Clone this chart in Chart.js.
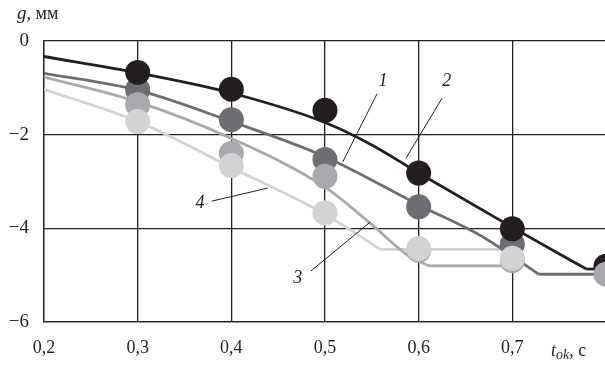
<!DOCTYPE html>
<html>
<head>
<meta charset="utf-8">
<script src="https://cdn.jsdelivr.net/npm/chart.js@4/dist/chart.umd.min.js"></script>
<style>
  html, body { margin: 0; padding: 0; background: #fff; overflow: hidden; }
  #wrap { width: 605px; height: 366px; overflow: hidden; position: relative; }
  canvas { position: absolute; left: 0; top: 0; }
</style>
</head>
<body>
<div id="wrap"><canvas id="c" width="608" height="366"></canvas></div>
<script>
// Axis ticks
const xTicks = [0.2, 0.3, 0.4, 0.5, 0.6, 0.7, 0.8];
const yTicks = [-6, -4, -2, 0];

// Measured deflection g (mm) at the tested t_ok values (s)
const dotX = [0.3, 0.4, 0.5, 0.6, 0.7, 0.8];
const dots1 = [-1.04, -1.68, -2.53, -3.54, -4.34, null];
const dots2 = [-0.67, -1.03, -1.48, -2.82, -4.01, -4.81];
const dots3 = [-1.36, -2.40, -2.89, -4.47, -4.69, -4.98];
const dots4 = [-1.72, -2.66, -3.67, -4.43, -4.64, null];

// Calculated curves: sloping part and the horizontal shelf after it
const curve1X = [0.2, 0.3, 0.4, 0.5, 0.6, 0.67, 0.728];
const curve1Y = [-0.69, -1.05, -1.72, -2.47, -3.5, -4.2, -4.98];
const shelf1X = [0.728, 0.8];
const shelf1Y = [-4.98, -4.98];

const curve2X = [0.2, 0.3, 0.4, 0.5, 0.55, 0.6, 0.7, 0.779];
const curve2Y = [-0.33, -0.68, -1.11, -1.74, -2.22, -2.82, -3.98, -4.87];
const shelf2X = [0.779, 0.8];
const shelf2Y = [-4.87, -4.87];

const curve3X = [0.2, 0.3, 0.4, 0.5, 0.55, 0.59, 0.611];
const curve3Y = [-0.77, -1.3, -2.08, -3.12, -3.92, -4.6, -4.8];
const shelf3X = [0.611, 0.7];
const shelf3Y = [-4.8, -4.8];

const curve4X = [0.2, 0.3, 0.4, 0.5, 0.559];
const curve4Y = [-1.03, -1.72, -2.7, -3.7, -4.45];
const shelf4X = [0.559, 0.7];
const shelf4Y = [-4.45, -4.45];

// Curve numbers with their leader lines (data units)
const curveLabels = [
  { text: '1', at: [0.562, -0.85], from: [0.5555, -1.13], to: [0.519, -2.58] },
  { text: '2', at: [0.630, -0.85], from: [0.625, -1.22], to: [0.5865, -2.50] },
  { text: '3', at: [0.471, -5.06], from: [0.485, -4.91], to: [0.548, -3.87] },
  { text: '4', at: [0.3665, -3.46], from: [0.379, -3.42], to: [0.439, -3.14] }
];

const INK = '#231f20';
const C1 = '#6d6e71';
const C2 = '#231f20';
const C3 = '#a7a9ac';
const C4 = '#d1d3d4';
const SERIF = '"Liberation Serif", "Times New Roman", serif';

const pts = (xs, ys) => xs.map((x, i) => ({ x: x, y: ys[i] })).filter(p => p.y !== null);

function lineSet(xs, ys, color, smooth) {
  return {
    data: pts(xs, ys),
    borderColor: color,
    borderWidth: 2.8,
    pointRadius: 0,
    fill: false,
    cubicInterpolationMode: smooth ? 'monotone' : 'default',
    tension: 0,
    order: 10
  };
}
function dotSet(ys, color, order) {
  return {
    data: pts(dotX, ys),
    showLine: false,
    pointRadius: 12.5,
    pointHoverRadius: 12.5,
    pointBackgroundColor: color,
    pointBorderWidth: 0,
    borderColor: color,
    order: order,
    clip: false
  };
}

const annotate = {
  id: 'annotate',
  afterDatasetsDraw(chart) {
    const ctx = chart.ctx;
    const xs = chart.scales.x, ys = chart.scales.y;
    ctx.save();
    ctx.strokeStyle = INK;
    ctx.fillStyle = INK;
    ctx.lineWidth = 1;
    curveLabels.forEach(l => {
      ctx.beginPath();
      ctx.moveTo(xs.getPixelForValue(l.from[0]), ys.getPixelForValue(l.from[1]));
      ctx.lineTo(xs.getPixelForValue(l.to[0]), ys.getPixelForValue(l.to[1]));
      ctx.stroke();
      ctx.font = 'italic 18px ' + SERIF;
      ctx.textAlign = 'center';
      ctx.textBaseline = 'middle';
      ctx.fillText(l.text, xs.getPixelForValue(l.at[0]), ys.getPixelForValue(l.at[1]));
    });

    // axis titles
    ctx.textAlign = 'left';
    ctx.textBaseline = 'alphabetic';
    let x = 17, y = 19;
    ctx.font = 'italic 19px ' + SERIF;
    ctx.fillText('g', x, y);
    x += ctx.measureText('g').width;
    ctx.font = '18px ' + SERIF;
    ctx.fillText(', мм', x, y);

    x = 551; y = 356;
    ctx.font = 'italic 18px ' + SERIF;
    ctx.fillText('t', x, y);
    x += ctx.measureText('t').width;
    ctx.font = 'italic 14px ' + SERIF;
    ctx.fillText('ok', x, y + 3);
    x += ctx.measureText('ok').width;
    ctx.font = '18px ' + SERIF;
    ctx.fillText(', с', x, y);
    ctx.restore();
  }
};

new Chart(document.getElementById('c'), {
  type: 'line',
  data: {
    datasets: [
      lineSet(curve1X, curve1Y, C1, true),
      lineSet(shelf1X, shelf1Y, C1, false),
      lineSet(curve2X, curve2Y, C2, true),
      lineSet(shelf2X, shelf2Y, C2, false),
      lineSet(curve3X, curve3Y, C3, true),
      lineSet(shelf3X, shelf3Y, C3, false),
      lineSet(curve4X, curve4Y, C4, true),
      lineSet(shelf4X, shelf4Y, C4, false),
      dotSet(dots1, C1, 6),
      dotSet(dots2, C2, 5),
      dotSet(dots3, C3, 4),
      dotSet(dots4, C4, 3)
    ]
  },
  options: {
    responsive: false,
    devicePixelRatio: 1,
    animation: false,
    events: [],
    layout: { autoPadding: false, padding: { left: 0, top: 41, right: 2, bottom: 0 } },
    plugins: { legend: { display: false }, tooltip: { enabled: false } },
    scales: {
      x: {
        type: 'linear',
        min: xTicks[0],
        max: xTicks[xTicks.length - 1],
        afterBuildTicks: s => { s.ticks = xTicks.map(v => ({ value: v })); },
        afterFit: s => { s.height = 44; s.paddingLeft = 0; s.paddingRight = 0; },
        grid: { color: INK, lineWidth: 1.3, drawTicks: false },
        border: { color: INK, width: 1.3 },
        ticks: {
          color: INK,
          padding: 15,
          maxRotation: 0,
          font: { family: SERIF, size: 18 },
          callback: v => (Math.abs(v - 0.8) < 1e-6 ? '' : v.toFixed(1).replace('.', ','))
        }
      },
      y: {
        type: 'linear',
        min: yTicks[0],
        max: yTicks[yTicks.length - 1],
        afterBuildTicks: s => { s.ticks = yTicks.map(v => ({ value: v })); },
        afterFit: s => { s.width = 44; s.paddingTop = 0; s.paddingBottom = 0; },
        grid: { color: INK, lineWidth: 1.3, drawTicks: false },
        border: { color: INK, width: 1.3 },
        ticks: {
          color: INK,
          padding: 15,
          font: { family: SERIF, size: 19 },
          callback: v => (v === 0 ? '0' : '\u2212' + Math.abs(v))
        }
      }
    }
  },
  plugins: [annotate]
});
</script>
</body>
</html>
